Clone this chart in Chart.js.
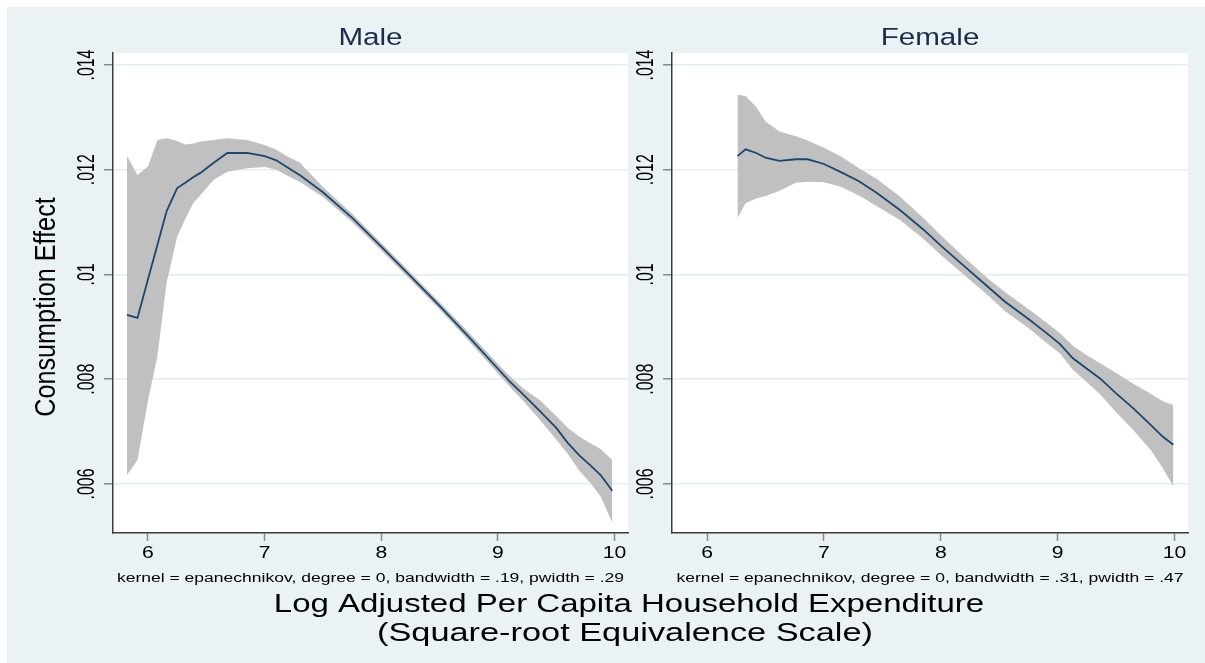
<!DOCTYPE html>
<html>
<head>
<meta charset="utf-8">
<script src="https://cdn.jsdelivr.net/npm/chart.js@4.4.1/dist/chart.umd.min.js"></script>
<style>
  html, body { margin: 0; padding: 0; background: #ffffff; }
  #wrap { position: relative; width: 1205px; height: 663px; overflow: hidden; }
  #panel { position: absolute; left: 7px; top: 7px; right: 0; bottom: 0; background: #EAF2F3; }
  canvas { position: absolute; left: 0; top: 0; }
</style>
</head>
<body>
<div id="wrap">
  <div id="panel"></div>
  <canvas id="maleChart" width="1205" height="663"></canvas>
  <canvas id="femaleChart" width="1205" height="663"></canvas>
</div>
<script>
// ---- data: local-linear (degree 0) kernel fits with 95% bands ----
const panelTitles = ['Male', 'Female'];
const notes = [
  'kernel = epanechnikov, degree = 0, bandwidth = .19, pwidth = .29',
  'kernel = epanechnikov, degree = 0, bandwidth = .31, pwidth = .47'
];
const yAxisTitle = 'Consumption Effect';
const xAxisTitle = ['Log Adjusted Per Capita Household Expenditure', '(Square-root Equivalence Scale)'];

const xTicks = [6, 7, 8, 9, 10];
const xTickLabels = ['6', '7', '8', '9', '10'];
const yTicks = [0.006, 0.008, 0.010, 0.012, 0.014];
const yTickLabels = ['.006', '.008', '.01', '.012', '.014'];
const xRange = [5.70, 10.115];
const yRange = [0.005064, 0.014229];

const maleX     = [5.82, 5.91, 6.00, 6.08, 6.16, 6.25, 6.32, 6.39, 6.45, 6.56, 6.68, 6.85, 7.00, 7.10, 7.20, 7.30, 7.50, 7.75, 8.00, 8.25, 8.50, 8.75, 9.00, 9.10, 9.22, 9.36, 9.50, 9.60, 9.70, 9.80, 9.88, 9.98];
const maleMean  = [0.00923, 0.00917, 0.00991, 0.01056, 0.01121, 0.01165, 0.01175, 0.01186, 0.01194, 0.01213, 0.01232, 0.01232, 0.01226, 0.01218, 0.01204, 0.01190, 0.01157, 0.01108, 0.01053, 0.00997, 0.00940, 0.00881, 0.00820, 0.00796, 0.00770, 0.00739, 0.00707, 0.00678, 0.00654, 0.00634, 0.00617, 0.00587];
const maleUpper = [0.01226, 0.01190, 0.01206, 0.01257, 0.01260, 0.01255, 0.01248, 0.01250, 0.01254, 0.01257, 0.01260, 0.01257, 0.01247, 0.01238, 0.01225, 0.01214, 0.01167, 0.01116, 0.01060, 0.01004, 0.00947, 0.00889, 0.00829, 0.00806, 0.00782, 0.00760, 0.00730, 0.00707, 0.00690, 0.00677, 0.00667, 0.00646];
const maleLower = [0.00617, 0.00646, 0.00760, 0.00843, 0.00985, 0.01072, 0.01106, 0.01137, 0.01152, 0.01180, 0.01196, 0.01203, 0.01205, 0.01200, 0.01188, 0.01177, 0.01148, 0.01100, 0.01046, 0.00990, 0.00933, 0.00873, 0.00811, 0.00786, 0.00758, 0.00722, 0.00685, 0.00657, 0.00625, 0.00600, 0.00576, 0.00526];

const femaleX     = [6.26, 6.33, 6.42, 6.50, 6.62, 6.76, 6.86, 7.00, 7.15, 7.30, 7.45, 7.65, 7.85, 8.00, 8.20, 8.40, 8.55, 8.75, 8.90, 9.02, 9.13, 9.25, 9.36, 9.50, 9.65, 9.80, 9.90, 9.99];
const femaleMean  = [0.01226, 0.01239, 0.01232, 0.01223, 0.01217, 0.01220, 0.01220, 0.01211, 0.01195, 0.01178, 0.01156, 0.01123, 0.01086, 0.01055, 0.01016, 0.00977, 0.00948, 0.00915, 0.00889, 0.00867, 0.00840, 0.00820, 0.00802, 0.00773, 0.00744, 0.00712, 0.00690, 0.00675];
const femaleUpper = [0.01343, 0.01341, 0.01320, 0.01292, 0.01273, 0.01264, 0.01256, 0.01242, 0.01225, 0.01203, 0.01183, 0.01149, 0.01108, 0.01075, 0.01033, 0.00993, 0.00966, 0.00934, 0.00909, 0.00888, 0.00864, 0.00846, 0.00831, 0.00812, 0.00791, 0.00772, 0.00758, 0.00751];
const femaleLower = [0.01108, 0.01136, 0.01145, 0.01150, 0.01160, 0.01175, 0.01177, 0.01176, 0.01167, 0.01151, 0.01131, 0.01104, 0.01068, 0.01037, 0.00999, 0.00961, 0.00930, 0.00898, 0.00870, 0.00849, 0.00818, 0.00794, 0.00772, 0.00737, 0.00702, 0.00664, 0.00630, 0.00595];

// ---- drawing helpers ----
const FONT = '"Liberation Sans", Arial, Helvetica, sans-serif';
const LINE_COLOR = '#1A476F';
const BAND_COLOR = '#C0C0C0';

function drawLabel(ctx, text, x, y, o) {
  ctx.save();
  ctx.translate(x, y);
  if (o.rotate) ctx.rotate(o.rotate);
  ctx.scale(o.stretch || 1, 1);
  ctx.font = o.size + 'px ' + FONT;
  ctx.fillStyle = o.color || '#000000';
  ctx.textAlign = o.align || 'center';
  ctx.textBaseline = 'alphabetic';
  ctx.fillText(text, 0, 0);
  ctx.restore();
}

function pts(xs, ys) { return xs.map((x, i) => ({ x: x, y: ys[i] })); }

// white plot region + stretched Stata-style labels for one panel
function panelPlugin(idx) {
  return {
    id: 'panelDecor' + idx,
    beforeDraw(chart) {
      const a = chart.chartArea, ctx = chart.ctx;
      ctx.save();
      ctx.fillStyle = '#ffffff';
      ctx.fillRect(a.left, a.top, a.right - a.left, a.bottom - a.top);
      ctx.restore();
    },
    afterDraw(chart) {
      const ctx = chart.ctx, a = chart.chartArea;
      const xs = chart.scales.x, ys = chart.scales.y;
      const cx = (a.left + a.right) / 2;
      yTicks.forEach((v, i) => {
        drawLabel(ctx, yTickLabels[i], a.left - 19, ys.getPixelForValue(v),
          { size: 23, stretch: 0.69, rotate: -Math.PI / 2 });
      });
      xTicks.forEach((v, i) => {
        drawLabel(ctx, xTickLabels[i], xs.getPixelForValue(v), a.bottom + 25,
          { size: 16.3, stretch: 1.3 });
      });
      drawLabel(ctx, panelTitles[idx], cx, a.top - 8,
        { size: 23.7, stretch: 1.25, color: '#1c2a4d' });
      drawLabel(ctx, notes[idx], cx, a.bottom + 49, { size: 13.7, stretch: 1.28 });
    }
  };
}

const outerTitles = {
  id: 'outerTitles',
  afterDraw(chart) {
    const ctx = chart.ctx;
    drawLabel(ctx, yAxisTitle, 55, 307, { size: 30, stretch: 0.84, rotate: -Math.PI / 2 });
    drawLabel(ctx, xAxisTitle[0], 629, 612, { size: 26, stretch: 1.27 });
    drawLabel(ctx, xAxisTitle[1], 625, 641, { size: 26, stretch: 1.32 });
  }
};

function makeChart(canvasId, idx, xs, mean, upper, lower, padLeft, padRight, extra) {
  return new Chart(document.getElementById(canvasId), {
    type: 'line',
    data: {
      datasets: [
        { data: pts(xs, mean), borderColor: LINE_COLOR, borderWidth: 1.8, pointRadius: 0, fill: false, tension: 0 },
        { data: pts(xs, upper), borderColor: 'rgba(0,0,0,0)', borderWidth: 0, pointRadius: 0, fill: '+1', backgroundColor: BAND_COLOR, tension: 0 },
        { data: pts(xs, lower), borderColor: 'rgba(0,0,0,0)', borderWidth: 0, pointRadius: 0, fill: false, tension: 0 }
      ]
    },
    options: {
      responsive: false,
      animation: false,
      events: [],
      devicePixelRatio: 1,
      layout: { padding: { left: padLeft, right: padRight, top: 53, bottom: 122 } },
      plugins: { legend: { display: false }, tooltip: { enabled: false }, title: { display: false } },
      scales: {
        x: {
          type: 'linear', min: xRange[0], max: xRange[1],
          afterBuildTicks(s) { s.ticks = xTicks.map(v => ({ value: v })); },
          afterFit(s) { s.height = 8; },
          ticks: { display: false },
          grid: { drawOnChartArea: false, drawTicks: true, tickLength: 8, tickColor: '#8a8a8a', tickWidth: 1.5 },
          border: { display: true, color: '#3c3c3c', width: 1.5 }
        },
        y: {
          type: 'linear', min: yRange[0], max: yRange[1],
          afterBuildTicks(s) { s.ticks = yTicks.map(v => ({ value: v })); },
          afterFit(s) { s.width = 9; },
          ticks: { display: false },
          grid: { color: '#E3ECEE', lineWidth: 1.5, drawTicks: true, tickLength: 9, tickColor: '#8a8a8a', tickWidth: 1.5 },
          border: { display: true, color: '#3c3c3c', width: 1.5 }
        }
      }
    },
    plugins: [panelPlugin(idx)].concat(extra)
  });
}

makeChart('maleChart', 0, maleX, maleMean, maleUpper, maleLower, 104, 577, [outerTitles]);
makeChart('femaleChart', 1, femaleX, femaleMean, femaleUpper, femaleLower, 663, 17, []);
</script>
</body>
</html>
